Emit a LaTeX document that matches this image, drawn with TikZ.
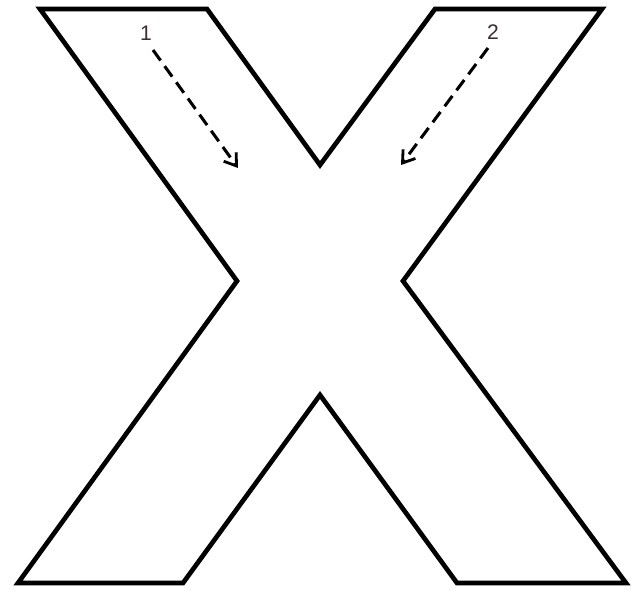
\documentclass[tikz,border=0pt]{standalone}
\usepackage{fontspec}
\setsansfont{Liberation Sans}
\usetikzlibrary{arrows.meta,positioning}
\definecolor{LabelGray}{HTML}{3A2E2E}

\begin{document}
\begin{tikzpicture}[
    x=0.03cm, y=-0.03cm,
    outline/.style={draw=black, line width=4pt, line join=miter},
    move/.style={-{Straight Barb[length=3.4mm, width=4.6mm, line width=2.4pt]}, dash pattern=on 11pt off 6pt, line width=2.6pt},
    num/.style={font=\sffamily\fontsize{18}{20}\selectfont, text=LabelGray, inner sep=1pt}
  ]
    \useasboundingbox (0,0) rectangle (643,592);

    % the X outline
    \draw[outline] (40,9) -- (207,9) -- (320,165) -- (435,9) -- (602,9)
        -- (403,281) -- (626,583) -- (457,583) -- (320,395) -- (183,583)
        -- (18,583) -- (237,281) -- cycle;

    % stroke order labels
    \node[num] (n1) at (146,33) {1};
    \node[num] (n2) at (493,32) {2};

    \coordinate (s1) at (153,50);
    \coordinate (e1) at (238,168);
    \coordinate (s2) at (488,48);
    \coordinate (e2) at (401,165);

    \draw[move] (s1) -- (e1);
    \draw[move] (s2) -- (e2);
\end{tikzpicture}
\end{document}
